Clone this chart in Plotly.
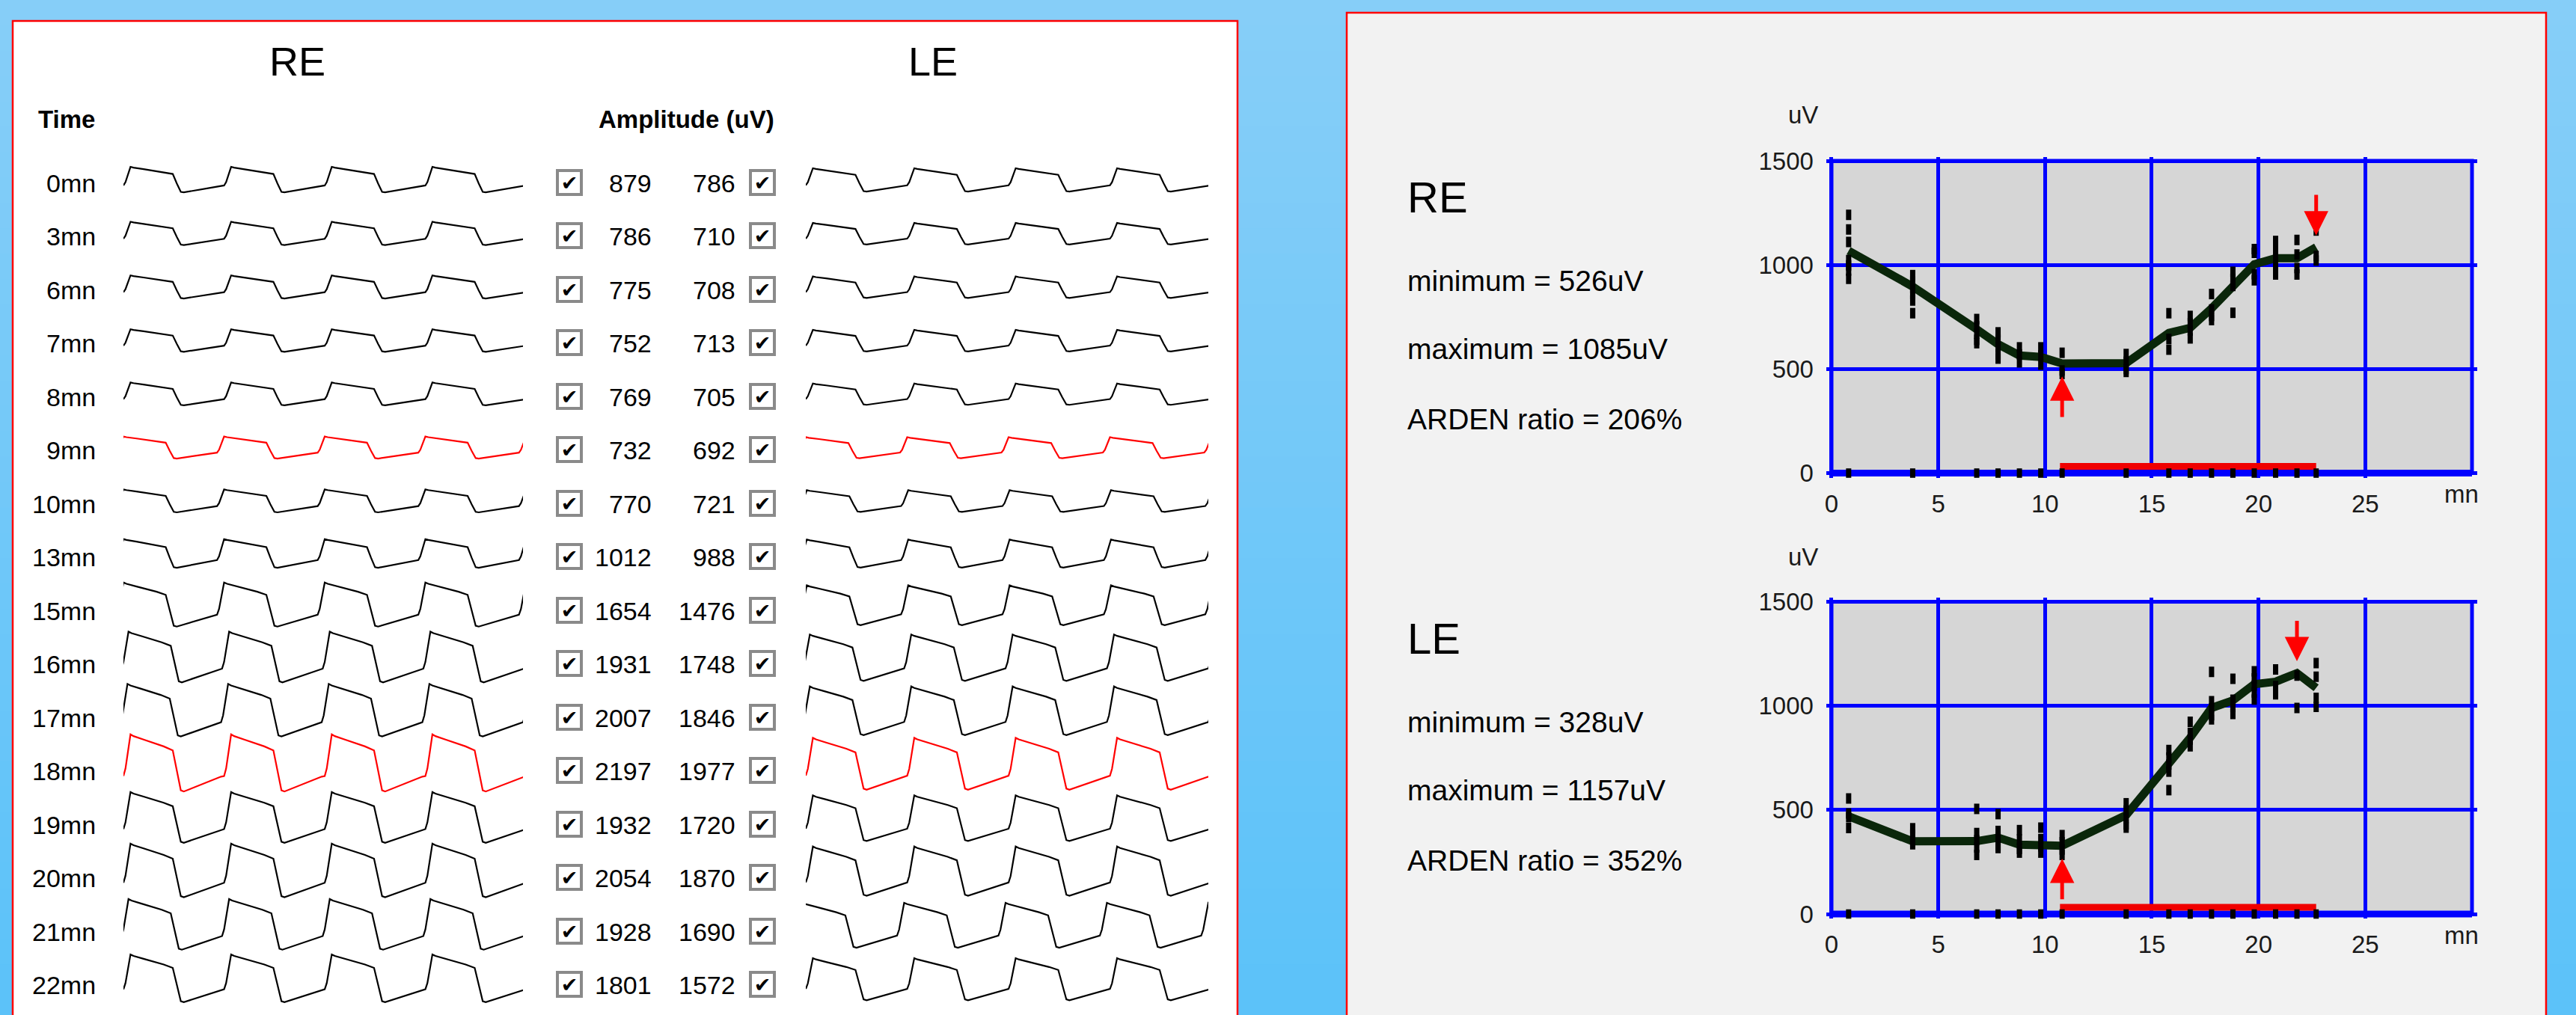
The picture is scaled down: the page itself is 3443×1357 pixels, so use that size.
import plotly.graph_objects as go

W, H = 3443, 1357
FONT = "Liberation Sans, Arial, sans-serif"

# ---------------- data ----------------
time_labels = ["0mn", "3mn", "6mn", "7mn", "8mn", "9mn", "10mn", "13mn",
               "15mn", "16mn", "17mn", "18mn", "19mn", "20mn", "21mn", "22mn"]
re_amplitude = [879, 786, 775, 752, 769, 732, 770, 1012, 1654, 1931, 2007, 2197, 1932, 2054, 1928, 1801]
le_amplitude = [786, 710, 708, 713, 705, 692, 721, 988, 1476, 1748, 1846, 1977, 1720, 1870, 1690, 1572]
highlight_rows = ["9mn", "18mn"]
# phase (fraction of a cycle) at which each recorded trace begins
re_start_phase = [0, 0, 0, 0, 0, 0.07, 0.07, 0.07, 0.07, 0.02, 0.03, 0, 0, 0, 0.02, 0]
le_start_phase = [0, 0, 0, 0, 0, 0.07, 0.06, 0.06, 0.06, 0.03, 0.03, 0, 0, 0, 0.10, 0]

# one saccade cycle of the EOG recording (fraction of period, fraction of swing)
cycle_phase = [0.00, 0.02, 0.07, 0.10, 0.20, 0.30, 0.40, 0.49, 0.53, 0.57, 0.60, 0.70, 0.80, 0.90, 0.97]
cycle_level = [0.27, 0.40, 1.00, 0.97, 0.91, 0.85, 0.79, 0.72, 0.35, 0.02, 0.00, 0.07, 0.14, 0.21, 0.26]
n_cycles = 4

# Arden trend charts
meas_time = [0.8, 3.8, 6.8, 7.8, 8.8, 9.8, 10.8, 13.8, 15.8, 16.8, 17.8, 18.8, 19.8, 20.8, 21.8, 22.7]
re_mean = [1068, 896, 691, 619, 565, 558, 526, 528, 673, 698, 791, 896, 1003, 1032, 1032, 1085]
le_mean = [469, 349, 350, 367, 333, 335, 328, 475, 713, 847, 990, 1026, 1104, 1116, 1157, 1086]
re_samples = [
    [1240, 1170, 1110, 1023, 998, 973, 933],
    [951, 920, 890, 860, 829, 768],
    [740, 705, 670, 640, 624],
    [676, 640, 605, 570, 550],
    [604, 570, 532],
    [604, 565, 521],
    [578, 493, 476],
    [572, 535, 500, 486],
    [768, 645, 593],
    [755, 720, 685, 647],
    [860, 786, 755, 735],
    [967, 933, 899, 770],
    [1076, 1058, 955, 926],
    [1115, 1094, 1051, 1017, 984, 954],
    [1120, 1050, 985, 954],
    [1204, 1165, 1043, 1021],
]
le_samples = [
    [555, 483, 465, 413],
    [412, 380, 350, 335],
    [505, 389, 355, 320, 284],
    [480, 399, 365, 330, 317],
    [403, 358, 313, 295],
    [415, 360, 325, 295],
    [379, 345, 310, 284],
    [532, 497, 462, 430, 415],
    [788, 752, 718, 684, 595],
    [923, 870, 838, 806],
    [1163, 1022, 988, 955, 935],
    [1130, 1029, 995, 961],
    [1166, 1132, 1098, 1064, 1030],
    [1175, 1095, 1055],
    [1295, 1145, 990],
    [1205, 1140, 1038, 995],
]
re_min_time, re_max_time = 10.8, 22.7
le_min_time, le_max_time = 10.8, 21.8
re_minimum, re_maximum, re_arden = 526, 1085, 206
le_minimum, le_maximum, le_arden = 328, 1157, 352
light_phase = [10.7, 22.7]
light_level = 32

x_ticks = [0, 5, 10, 15, 20, 25]
y_ticks = [0, 500, 1000, 1500]

# ---------------- helpers ----------------
def px(x):
    return x / W


def py(y):
    return 1 - y / H


ROW0, ROW_PX = 244.5, 71.5

fig = go.Figure()


def wave_xy(row, amp, start):
    span = (6 + 0.032 * amp) / ROW_PX
    center = row - 0.005 * amp / ROW_PX
    xs, ys = [], []
    for c in range(n_cycles + 1):
        for p, lv in zip(cycle_phase, cycle_level):
            xs.append(c + p - start)
            ys.append(center - (lv - 0.5) * span)
    return xs, ys


for i, lab in enumerate(time_labels):
    col = "#ff0000" if lab in highlight_rows else "#000000"
    for amp, st, xa in ((re_amplitude[i], re_start_phase[i], "x"),
                        (le_amplitude[i], le_start_phase[i], "x2")):
        xs, ys = wave_xy(i, amp, st)
        fig.add_trace(go.Scatter(x=xs, y=ys, mode="lines", xaxis=xa, yaxis="y",
                                 line=dict(color=col, width=2.2), hoverinfo="skip",
                                 showlegend=False))

# trend charts
charts = [
    ("x3", "y3", 632.5, meas_time, re_mean, re_samples),
    ("x4", "y4", 1222.0, meas_time, le_mean, le_samples),
]
for xa, ya, y0px, t, mean, samples in charts:
    fig.add_trace(go.Scatter(x=t, y=mean, mode="lines", xaxis=xa, yaxis=ya,
                             line=dict(color="#0a260a", width=11), showlegend=False,
                             hoverinfo="skip"))
    sx, sy = [], []
    for tt, vals in zip(t, samples):
        for v in vals:
            sx.append(tt)
            sy.append(v)
    fig.add_trace(go.Scatter(x=sx, y=sy, mode="markers", xaxis=xa, yaxis=ya,
                             marker=dict(symbol="line-ns", size=10,
                                         line=dict(color="#000000", width=7)),
                             showlegend=False, hoverinfo="skip"))
    fig.add_trace(go.Scatter(x=light_phase, y=[light_level, light_level], mode="lines",
                             xaxis=xa, yaxis=ya, line=dict(color="#f00000", width=9),
                             showlegend=False, hoverinfo="skip"))
    fig.add_trace(go.Scatter(x=t, y=[0] * len(t), mode="markers", xaxis=xa, yaxis=ya,
                             marker=dict(symbol="line-ns", size=9,
                                         line=dict(color="#000000", width=7)),
                             cliponaxis=False, showlegend=False, hoverinfo="skip"))

# ---------------- shapes ----------------
shapes = []
top_c = (135, 206, 248)
bot_c = (91, 194, 249)
nb = 40
for k in range(nb):
    f = (k + 0.5) / nb
    c = tuple(round(top_c[j] + (bot_c[j] - top_c[j]) * f) for j in range(3))
    shapes.append(dict(type="rect", xref="paper", yref="paper", x0=0, x1=1,
                       y0=1 - (k + 1) / nb - 0.002, y1=1 - k / nb,
                       fillcolor="rgb(%d,%d,%d)" % c, line=dict(width=0), layer="below"))
shapes.append(dict(type="rect", xref="paper", yref="paper", x0=px(17), x1=px(1654),
                   y0=py(H + 20), y1=py(28), fillcolor="#ffffff",
                   line=dict(color="#ff0000", width=2.5), layer="below"))
shapes.append(dict(type="rect", xref="paper", yref="paper", x0=px(1800), x1=px(3403),
                   y0=py(H + 20), y1=py(17), fillcolor="#f2f2f2",
                   line=dict(color="#ff0000", width=2.5), layer="below"))

X0PX, X30PX = 2448.0, 3304.0
PPM = (X30PX - X0PX) / 30.0
PPU = 417.5 / 1500.0
XR = [-0.25, 30.25]
YR = [-22, 1518]

layout_axes = {}
for xa, ya, y0px, *_ in charts:
    shapes.append(dict(type="rect", xref=xa, yref=ya, x0=0, x1=30, y0=0, y1=1500,
                       fillcolor="#d6d6d6", line=dict(width=0), layer="below"))
    shapes.append(dict(type="rect", xref=xa, yref=ya, x0=0, x1=30, y0=0, y1=1500,
                       fillcolor="rgba(0,0,0,0)", line=dict(color="#0000ff", width=5),
                       layer="between"))
    shapes.append(dict(type="line", xref=xa, yref=ya, x0=0, x1=30, y0=0, y1=0,
                       line=dict(color="#0000ff", width=9), layer="between"))
    xdom = [px(X0PX + XR[0] * PPM), px(X0PX + XR[1] * PPM)]
    ydom = [py(y0px - YR[0] * PPU), py(y0px - YR[1] * PPU)]
    xn = "xaxis" + xa[1:]
    yn = "yaxis" + ya[1:]
    layout_axes[xn] = dict(domain=xdom, range=XR, anchor=ya, tickvals=x_ticks,
                           ticktext=[str(v) for v in x_ticks], showgrid=True,
                           gridcolor="#0000ff", gridwidth=5, zeroline=False,
                           showline=False, ticks="", ticklabelstandoff=12,
                           automargin=False,
                           tickfont=dict(family=FONT, size=33, color="#1a1a1a"),
                           fixedrange=True)
    layout_axes[yn] = dict(domain=ydom, range=YR, anchor=xa, tickvals=y_ticks,
                           ticktext=[str(v) for v in y_ticks], showgrid=True,
                           gridcolor="#0000ff", gridwidth=5, zeroline=False,
                           showline=False, ticks="", ticklabelstandoff=16,
                           automargin=False,
                           tickfont=dict(family=FONT, size=33, color="#1a1a1a"),
                           fixedrange=True)

# ---------------- annotations ----------------
ann = []


def txt(x, y, s, size, xanchor="left", yref="paper", bold=False, color="#000000"):
    ann.append(dict(x=x, y=y, xref="paper", yref=yref, text=("<b>%s</b>" % s) if bold else s,
                    showarrow=False, xanchor=xanchor, yanchor="middle",
                    font=dict(family=FONT, size=size, color=color)))


txt(px(397), py(82), "RE", 54, "center")
txt(px(1247), py(82), "LE", 54, "center")
txt(px(49), py(160), "Time", 33, "left", bold=True)
txt(px(918), py(160), "Amplitude (uV)", 33, "center", bold=True)

for i, lab in enumerate(time_labels):
    txt(px(130), i, lab, 34, "right", yref="y")
    txt(px(873), i, str(re_amplitude[i]), 34, "right", yref="y")
    txt(px(985), i, str(le_amplitude[i]), 34, "right", yref="y")
    for cx in (761, 1019):
        ann.append(dict(x=px(cx), y=i - 1 / ROW_PX, xref="paper", yref="y", text="✔",
                        showarrow=False, xanchor="center", yanchor="middle",
                        font=dict(family="DejaVu Sans", size=27, color="#000000"),
                        bgcolor="#ffffff", bordercolor="#8a8a8a", borderwidth=4,
                        borderpad=0, width=28, height=28, align="center", valign="middle"))

panels = [
    ("RE", 0, re_minimum, re_maximum, re_arden, "x3", "y3", re_min_time, re_max_time),
    ("LE", 590, le_minimum, le_maximum, le_arden, "x4", "y4", le_min_time, le_max_time),
]
for name, off, mn, mx, ar, xa, ya, tmin, tmax in panels:
    txt(px(1879), py(263 + off), name, 58)
    txt(px(1879), py(375 + off), "minimum = %duV" % mn, 39)
    txt(px(1879), py(466 + off), "maximum = %duV" % mx, 39)
    txt(px(1879), py(560 + off), "ARDEN ratio = %d%%" % ar, 39)
    txt(px(2410), py(154 + off), "uV", 33, "center", color="#1a1a1a")
    ann.append(dict(x=29.5, y=py(660 + off), xref=xa, yref="paper", text="mn",
                    showarrow=False, xanchor="center", yanchor="middle",
                    font=dict(family=FONT, size=33, color="#1a1a1a")))
    # minimum (up) and maximum (down) arrows
    ann.append(dict(x=tmin, y=mn - 62, ax=tmin, ay=mn - 262, xref=xa, yref=ya,
                    axref=xa, ayref=ya, text="", showarrow=True, arrowhead=2,
                    arrowsize=1.3, arrowwidth=5, arrowcolor="#ff0000"))
    ann.append(dict(x=tmax, y=mx + 57, ax=tmax, ay=mx + 257, xref=xa, yref=ya,
                    axref=xa, ayref=ya, text="", showarrow=True, arrowhead=2,
                    arrowsize=1.3, arrowwidth=5, arrowcolor="#ff0000"))

fig.update_layout(
    width=W, height=H, margin=dict(l=0, r=0, t=0, b=0, pad=0, autoexpand=False),
    paper_bgcolor="#87cef8", plot_bgcolor="rgba(0,0,0,0)",
    showlegend=False, shapes=shapes, annotations=ann,
    xaxis=dict(domain=[px(165), px(699)], range=[0, n_cycles - 0.03], visible=False,
               anchor="y", fixedrange=True, automargin=False),
    xaxis2=dict(domain=[px(1077), px(1615)], range=[0, n_cycles - 0.03], visible=False,
                anchor="y", fixedrange=True, automargin=False),
    yaxis=dict(domain=[0, 1], range=[(H - ROW0) / ROW_PX, -ROW0 / ROW_PX], visible=False,
               anchor="x", fixedrange=True, automargin=False),
    **layout_axes,
)

fig.write_html("out.html", config={"displayModeBar": False},
               post_script="document.body.style.margin='0px';document.body.style.overflow='hidden';")
